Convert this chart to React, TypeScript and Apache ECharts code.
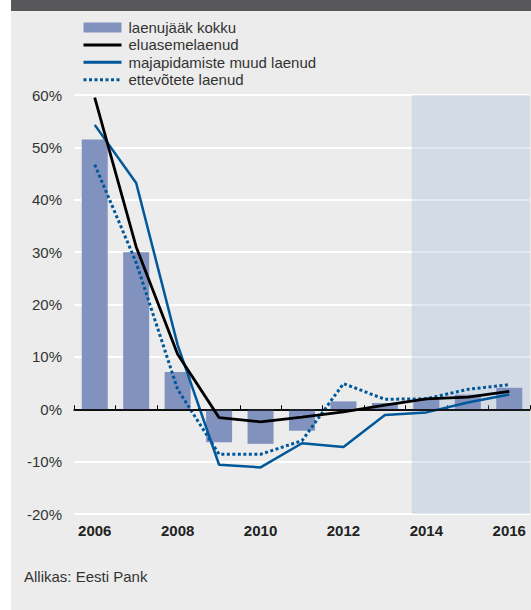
import React, { useEffect, useRef } from "react";
import * as echarts from "echarts";

const years = ["2006", "2007", "2008", "2009", "2010", "2011", "2012", "2013", "2014", "2015", "2016"];
const totalLoans = [51.5, 30.0, 7.1, -6.3, -6.6, -4.1, 1.5, 1.2, 2.0, 2.8, 4.1];
const housingLoans = [59.5, 31.0, 10.5, -1.6, -2.4, -1.5, -0.5, 0.8, 2.0, 2.3, 3.4];
const otherHouseholdLoans = [54.3, 43.2, 12.3, -10.6, -11.1, -6.5, -7.2, -1.1, -0.6, 1.3, 2.8];
const corporateLoans = [46.7, 28.0, 3.8, -8.6, -8.6, -6.0, 4.9, 1.9, 2.0, 3.8, 4.7];
const seriesNames = ["laenujääk kokku", "eluasemelaenud", "majapidamiste muud laenud", "ettevõtete laenud"];
const forecastStart = 7.65;
const forecastEnd = 10.5;
const sourceText = "Allikas: Eesti Pank";

const FONT = "'Liberation Sans', Arial, Helvetica, sans-serif";

export default function App() {
  const ref = useRef<HTMLDivElement>(null);
  useEffect(() => {
    if (!ref.current) return;
    const chart = echarts.init(ref.current, null, { renderer: "svg" });
    chart.setOption({
      animation: false,
      backgroundColor: "#ffffff",
      textStyle: { fontFamily: FONT },
      graphic: [
        { type: "rect", z: -10, shape: { x: 11, y: 0, width: 520, height: 11 }, style: { fill: "#58585a" }, silent: true },
        { type: "rect", z: -10, shape: { x: 11, y: 11, width: 520, height: 599 }, style: { fill: "#ebeceb" }, silent: true },
        {
          type: "text",
          left: 24,
          top: 569,
          style: { text: sourceText, fontSize: 15, fill: "#333333", fontFamily: FONT },
          silent: true,
        },
      ],
      legend: {
        orient: "vertical",
        left: 77,
        top: 15,
        itemWidth: 38,
        itemHeight: 10,
        itemGap: 2.4,
        lineStyle: { width: 3 },
        data: [
          { name: seriesNames[0], icon: "rect" },
          { name: seriesNames[1], itemStyle: { opacity: 0 } },
          { name: seriesNames[2], itemStyle: { opacity: 0 } },
          { name: seriesNames[3], itemStyle: { opacity: 0 } },
        ],
        textStyle: { fontSize: 15, color: "#333333", lineHeight: 15, fontFamily: FONT, padding: [0, 0, 0, 2] },
        selectedMode: false,
      },
      grid: { left: 74, right: 1, top: 95, bottom: 96, containLabel: false },
      xAxis: [
        {
          type: "category",
          data: years,
          boundaryGap: true,
          axisLine: { lineStyle: { color: "#000000", width: 1.5 } },
          axisTick: { show: true, inside: true, length: 4, interval: 0, lineStyle: { color: "#000000", width: 1 } },
          axisLabel: { interval: 1, fontSize: 15, fontWeight: "bold", color: "#222222", margin: 9, fontFamily: FONT },
          splitLine: { show: false },
        },
        { type: "value", min: -0.5, max: 10.5, show: false },
      ],
      yAxis: {
        type: "value",
        min: -20,
        max: 60,
        interval: 10,
        axisLine: { show: false },
        axisTick: { show: false },
        axisLabel: { formatter: "{value}%", fontSize: 15, color: "#333333", margin: 12, fontFamily: FONT },
        splitLine: { show: true, lineStyle: { color: "#ffffff", width: 2 } },
      },
      series: [
        {
          name: "forecast",
          type: "line",
          xAxisIndex: 1,
          data: [],
          silent: true,
          markArea: {
            silent: true,
            itemStyle: { color: "rgba(140,168,208,0.25)" },
            data: [[{ xAxis: forecastStart }, { xAxis: forecastEnd }]],
          },
          z: 0,
        },
        {
          name: seriesNames[0],
          type: "bar",
          data: totalLoans,
          barWidth: 26,
          itemStyle: { color: "#8292bf" },
          z: 1,
          markLine: {
            silent: true,
            symbol: "none",
            label: { show: false },
            lineStyle: { color: "#000000", width: 1.5, type: "solid" },
            data: [{ yAxis: 0 }],
          },
        },
        {
          name: seriesNames[1],
          type: "line",
          data: housingLoans,
          symbol: "none",
          lineStyle: { color: "#000000", width: 2.8 },
          itemStyle: { color: "#000000" },
          z: 4,
        },
        {
          name: seriesNames[2],
          type: "line",
          data: otherHouseholdLoans,
          symbol: "none",
          lineStyle: { color: "#00589a", width: 2.5 },
          itemStyle: { color: "#00589a" },
          z: 3,
        },
        {
          name: seriesNames[3],
          type: "line",
          data: corporateLoans,
          symbol: "none",
          lineStyle: { color: "#00589a", width: 3, type: [3, 2.5] },
          itemStyle: { color: "#00589a" },
          z: 3,
        },
      ],
    });
    return () => chart.dispose();
  }, []);
  return (
    <div style={{ position: "fixed", left: 0, top: 0, width: 531, height: 610 }}>
      <div ref={ref} style={{ width: 531, height: 610 }} />
    </div>
  );
}
